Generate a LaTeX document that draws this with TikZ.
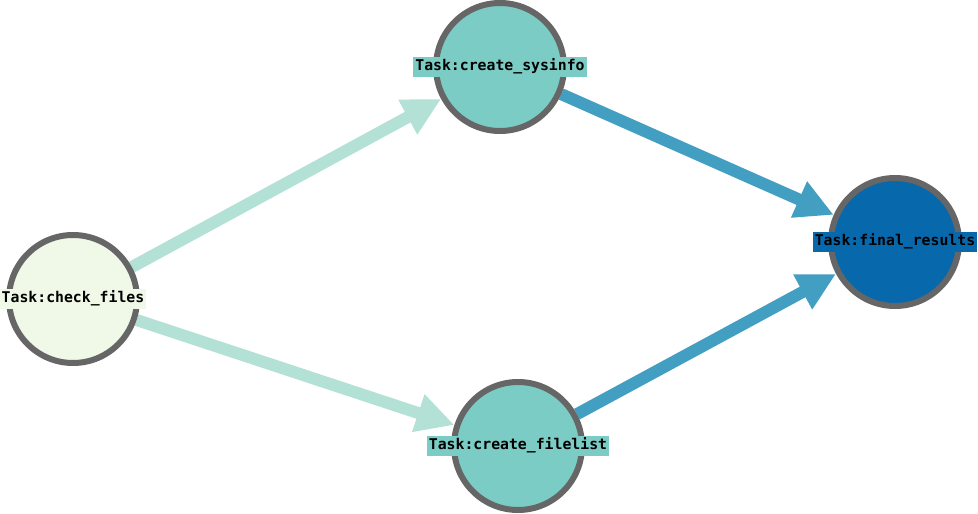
\documentclass[tikz,border=0pt]{standalone}
\usepackage{fontspec}
\newfontfamily\labfont{DejaVu Sans Mono}
\usetikzlibrary{arrows.meta}
\pgfdeclarelayer{bg}
\pgfsetlayers{bg,main}
\definecolor{fillA}{HTML}{F0F9E8}
\definecolor{fillB}{HTML}{7BCCC4}
\definecolor{fillC}{HTML}{0868AC}
\definecolor{edgeL}{HTML}{B3E1D6}
\definecolor{edgeD}{HTML}{439FC2}
\definecolor{ring}{HTML}{666666}
\tikzset{
  task/.style={circle, draw=ring, line width=6pt, minimum size=128pt, inner sep=0pt},
  lab/.style={inner xsep=2pt, inner ysep=0pt, minimum height=20pt, text height=11pt, text depth=3.5pt,
    font=\labfont\bfseries\fontsize{14.8pt}{16pt}\selectfont, text=black},
  flow/.style={line width=12pt, -{Triangle[length=38pt,width=37pt]}},
}
\begin{document}
\begin{tikzpicture}[x=1pt,y=-1pt]
\useasboundingbox (0,0) rectangle (978,514);
\node[task, fill=fillA] (c1) at (73,299) {};
\node[task, fill=fillB] (c2) at (500,67) {};
\node[task, fill=fillB] (c3) at (518,446) {};
\node[task, fill=fillC] (c4) at (895,242) {};
\begin{pgfonlayer}{bg}
\draw[flow, edgeL] (c1) -- (c2);
\draw[flow, edgeL] (c1) -- (c3);
\draw[flow, edgeD] (c2) -- (c4);
\draw[flow, edgeD] (c3) -- (c4);
\end{pgfonlayer}
\node[lab, fill=fillA] (l1) at (c1) {Task:check\_files};
\node[lab, fill=fillB] (l2) at (c2) {Task:create\_sysinfo};
\node[lab, fill=fillB] (l3) at (c3) {Task:create\_filelist};
\node[lab, fill=fillC] (l4) at (c4) {Task:final\_results};
\end{tikzpicture}
\end{document}
